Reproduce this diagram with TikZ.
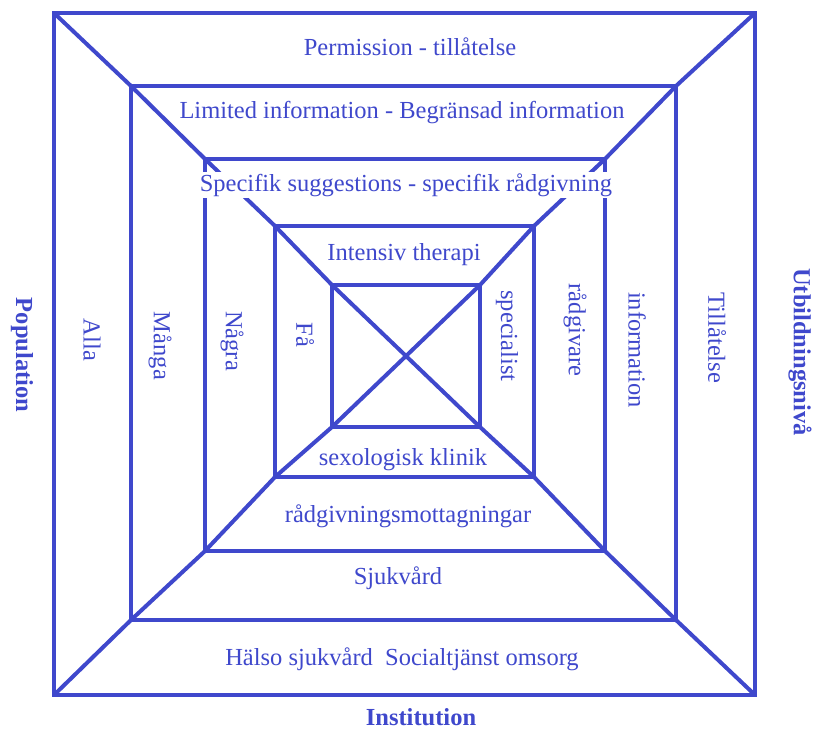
\documentclass[tikz,border=0pt]{standalone}
\usepackage{fontspec}
\setmainfont{Liberation Serif}
\definecolor{pblue}{RGB}{63,72,204}
\begin{document}
\begin{tikzpicture}[x=1pt,y=-1pt,
  frame/.style={draw=pblue,line width=4pt,line join=miter},
  lbl/.style={text=pblue,fill=white,inner sep=1.5pt,font=\fontsize{24.5}{29}\selectfont},
  vlbl/.style={lbl,rotate=-90},
  blbl/.style={text=pblue,inner sep=1pt,font=\fontsize{24.5}{29}\selectfont\bfseries}]
\useasboundingbox (0,0) rectangle (816,731);
% corners
\coordinate (a1) at (54,13);  \coordinate (b1) at (755,695);
\coordinate (a2) at (131,86); \coordinate (b2) at (676,620);
\coordinate (a3) at (205,159);\coordinate (b3) at (605,551);
\coordinate (a4) at (275,226);\coordinate (b4) at (534,477);
\coordinate (a5) at (332,285);\coordinate (b5) at (480,427);
\draw[frame] (a1) rectangle (b1);
\draw[frame] (a2) rectangle (b2);
\draw[frame] (a3) rectangle (b3);
\draw[frame] (a4) rectangle (b4);
\draw[frame] (a5) rectangle (b5);
\draw[frame] (a1) -- (a2) -- (a3) -- (a4) -- (a5) -- (b5) -- (b4) -- (b3) -- (b2) -- (b1);
\draw[frame] (a1 -| b1) -- (a2 -| b2) -- (a3 -| b3) -- (a4 -| b4) -- (a5 -| b5)
  -- (b5 -| a5) -- (b4 -| a4) -- (b3 -| a3) -- (b2 -| a2) -- (b1 -| a1);
% horizontal labels
\node[lbl] (t1) at (410,47) {Permission - tillåtelse};
\node[lbl] (t2) at (402,113) {Limited information - Begränsad information};
\node[lbl] (t3) at (406,185) {Specifik suggestions - specifik rådgivning};
\node[lbl] (t4) at (404,255) {Intensiv therapi};
\node[lbl] (t5) at (403,460) {sexologisk klinik};
\node[lbl] (t6) at (408,516) {rådgivningsmottagningar};
\node[lbl] (t7) at (398,578) {Sjukvård};
\node[lbl] (t8) at (402,659) {Hälso sjukvård\ \ Socialtjänst omsorg};
% vertical labels left
\node[vlbl] (l1) at (92,340) {Alla};
\node[vlbl] (l2) at (160,346) {Många};
\node[vlbl] (l3) at (232,341) {Några};
\node[vlbl] (l4) at (305,335) {Få};
% vertical labels right
\node[vlbl] (r1) at (507,336) {specialist};
\node[vlbl] (r2) at (575,330) {rådgivare};
\node[vlbl] (r3) at (637,350) {information};
\node[vlbl] (r4) at (717,338) {Tillåtelse};
% axis labels
\node[blbl,rotate=-90] (pop) at (22,355) {Population};
\node[blbl,rotate=-90] (utb) at (800,352) {Utbildningsnivå};
\node[blbl] (inst) at (421,717) {Institution};
\end{tikzpicture}
\end{document}
